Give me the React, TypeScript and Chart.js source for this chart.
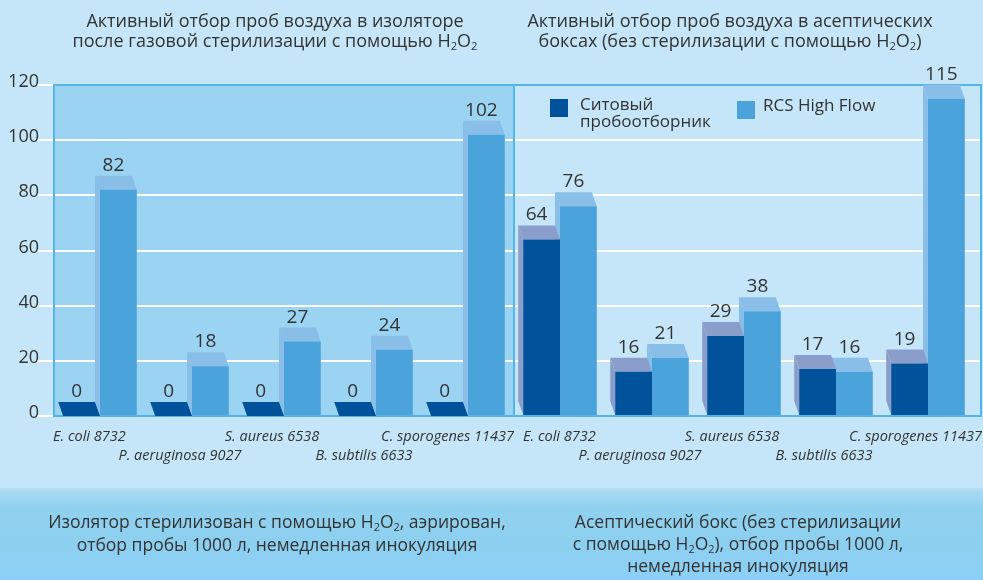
import React, { useEffect, useRef } from 'react';
import { Chart, registerables } from 'chart.js';

Chart.register(...registerables);

// ---------- data ----------
const categories = ['E. coli 8732', 'P. aeruginosa 9027', 'S. aureus 6538', 'B. subtilis 6633', 'C. sporogenes 11437'];
const sieveIsolator = [0, 0, 0, 0, 0];
const rcsIsolator = [82, 18, 27, 24, 102];
const sieveAseptic = [64, 16, 29, 17, 19];
const rcsAseptic = [76, 21, 38, 16, 115];
const yMin = 0;
const yMax = 120;
const yStep = 20;
const seriesSieve = 'Ситовый пробоотборник';
const seriesRcs = 'RCS High Flow';

// ---------- style ----------
const FONT = '"Open Sans", "Noto Sans", sans-serif';
const TEXT = '#333333';
const PAGE_BG = '#c5e6f8';
const LEFT_BG = '#9bd3f3';
const BORDER = '#56b5e7';
const SIEVE = '#00529b';
const SIEVE_DEPTH = '#8b9ecb';
const RCS = '#4ba3db';
const RCS_DEPTH = '#88bee8';
const DEPTH_X = -5;
const DEPTH_Y = -14;
const BAND_TOP = 488;
const LABEL_SHIFT = -12;

const xLabels = [...categories, ...categories];

const panelsPlugin = {
  id: 'panels3d',
  beforeDraw(chart: any) {
    const { ctx, chartArea, scales } = chart;
    const xs = scales.x;
    ctx.save();
    ctx.fillStyle = PAGE_BG;
    ctx.fillRect(0, 0, chart.width, chart.height);
    const g = ctx.createLinearGradient(0, BAND_TOP, 0, chart.height);
    g.addColorStop(0, '#b4def4');
    g.addColorStop(0.06, '#a3d8f1');
    g.addColorStop(0.2, '#91d1ee');
    g.addColorStop(0.6, '#8ccfef');
    g.addColorStop(1, '#8dd0f7');
    ctx.fillStyle = g;
    ctx.fillRect(0, BAND_TOP, chart.width, chart.height - BAND_TOP);
    const split = (xs.getPixelForValue(4) + xs.getPixelForValue(5)) / 2;
    ctx.fillStyle = LEFT_BG;
    ctx.fillRect(chartArea.left, chartArea.top, split - chartArea.left, chartArea.bottom - chartArea.top);
    ctx.restore();
  },
  beforeDatasetsDraw(chart: any) {
    const { ctx, chartArea, scales } = chart;
    const xs = scales.x;
    const ys = scales.y;
    const split = (xs.getPixelForValue(4) + xs.getPixelForValue(5)) / 2;
    const rightEdge = chartArea.right + 7;
    ctx.save();
    // gridlines
    ctx.strokeStyle = '#ffffff';
    ctx.lineWidth = 2;
    ys.ticks.forEach((t: any) => {
      const py = Math.round(ys.getPixelForValue(t.value));
      ctx.beginPath();
      ctx.moveTo(chartArea.left, py);
      ctx.lineTo(rightEdge, py);
      ctx.stroke();
    });
    // panel borders
    ctx.strokeStyle = BORDER;
    ctx.lineWidth = 2;
    ctx.strokeRect(chartArea.left, chartArea.top, split - chartArea.left, chartArea.bottom - chartArea.top);
    ctx.strokeRect(split, chartArea.top, rightEdge - split, chartArea.bottom - chartArea.top);
    // 3D depth faces (light series first, dark on top)
    [1, 0].forEach((di) => {
      const ds = chart.data.datasets[di];
      const meta = chart.getDatasetMeta(di);
      meta.data.forEach((bar: any, i: number) => {
        const { x, y, base, width } = bar.getProps(['x', 'y', 'base', 'width'], true);
        const l = x - width / 2;
        const r = x + width / 2;
        const v = ds.data[i];
        ctx.fillStyle = v === 0 ? ds.backgroundColor : ds.depthColor;
        ctx.beginPath();
        ctx.moveTo(l, y);
        ctx.lineTo(r, y);
        ctx.lineTo(r + DEPTH_X, y + DEPTH_Y);
        ctx.lineTo(l + DEPTH_X, y + DEPTH_Y);
        ctx.closePath();
        ctx.fill();
        if (v !== 0) {
          ctx.beginPath();
          ctx.moveTo(l, y);
          ctx.lineTo(l + DEPTH_X, y + DEPTH_Y);
          ctx.lineTo(l + DEPTH_X, base + DEPTH_Y);
          ctx.lineTo(l, base);
          ctx.closePath();
          ctx.fill();
        }
      });
    });
    ctx.restore();
  },
  afterDatasetsDraw(chart: any) {
    const { ctx } = chart;
    ctx.save();
    ctx.fillStyle = TEXT;
    ctx.font = `19px ${FONT}`;
    ctx.textAlign = 'center';
    ctx.textBaseline = 'alphabetic';
    chart.data.datasets.forEach((ds: any, di: number) => {
      const meta = chart.getDatasetMeta(di);
      meta.data.forEach((bar: any, i: number) => {
        const { x, y } = bar.getProps(['x', 'y'], true);
        ctx.fillText(String(ds.data[i]), x + DEPTH_X, y + DEPTH_Y - 5);
      });
    });
    ctx.restore();
  },
  afterDraw(chart: any) {
    // staggered category labels, kept inside their own panel
    const { ctx, chartArea, scales } = chart;
    const xs = scales.x;
    const split = (xs.getPixelForValue(4) + xs.getPixelForValue(5)) / 2;
    const rightEdge = chartArea.right + 8;
    ctx.save();
    ctx.fillStyle = TEXT;
    ctx.font = `italic 14.5px ${FONT}`;
    ctx.textAlign = 'left';
    ctx.textBaseline = 'alphabetic';
    const labels: string[] = chart.data.labels;
    labels.forEach((text, i) => {
      const w = ctx.measureText(text).width;
      const inLeft = i < 5;
      const minL = inLeft ? chartArea.left - 1 : split + 9;
      const maxR = inLeft ? split : rightEdge;
      let left = xs.getPixelForValue(i) + LABEL_SHIFT - w / 2;
      if (left + w > maxR) left = maxR - w;
      if (left < minL) left = minL;
      const row = (i % 5) % 2;
      ctx.fillText(text, left, chartArea.bottom + (row === 0 ? 25 : 44));
    });
    ctx.restore();
  },
};

const subStyle: React.CSSProperties = { fontSize: '0.62em', verticalAlign: '-0.3em', lineHeight: 0 };
const H2O2 = () => (
  <>
    H<sub style={subStyle}>2</sub>O<sub style={subStyle}>2</sub>
  </>
);

const textBase: React.CSSProperties = {
  position: 'absolute',
  fontFamily: FONT,
  color: TEXT,
  textAlign: 'center',
  whiteSpace: 'nowrap',
};

export default function App() {
  const canvasRef = useRef<HTMLCanvasElement | null>(null);

  useEffect(() => {
    const canvas = canvasRef.current;
    if (!canvas) return;
    const chart = new Chart(canvas, {
      type: 'bar',
      data: {
        labels: xLabels,
        datasets: [
          {
            label: seriesSieve,
            data: [...sieveIsolator, ...sieveAseptic],
            backgroundColor: SIEVE,
            depthColor: SIEVE_DEPTH,
            borderWidth: 0,
            categoryPercentage: 0.8,
            barPercentage: 1.0,
          } as any,
          {
            label: seriesRcs,
            data: [...rcsIsolator, ...rcsAseptic],
            backgroundColor: RCS,
            depthColor: RCS_DEPTH,
            borderWidth: 0,
            categoryPercentage: 0.8,
            barPercentage: 1.0,
          } as any,
        ],
      },
      options: {
        responsive: false,
        devicePixelRatio: 1,
        animation: false,
        layout: { padding: { top: 85, right: 9, bottom: 114, left: 0 } },
        plugins: {
          legend: { display: false },
          title: { display: false },
          tooltip: { enabled: false },
        },
        scales: {
          x: {
            type: 'category',
            grid: { display: false, drawTicks: false },
            border: { display: false },
            ticks: { display: false },
            afterFit: (s: any) => {
              s.height = 50;
              s.paddingLeft = 0;
              s.paddingRight = 0;
            },
          },
          y: {
            min: yMin,
            max: yMax,
            grid: { drawOnChartArea: false, drawTicks: true, tickLength: 17, color: '#ffffff', lineWidth: 2 },
            border: { display: false },
            ticks: {
              stepSize: yStep,
              padding: -2,
              labelOffset: -3,
              color: TEXT,
              font: { family: FONT, size: 18 },
            },
            afterFit: (s: any) => {
              s.width = 54;
            },
          },
        },
      },
      plugins: [panelsPlugin],
    } as any);
    return () => chart.destroy();
  }, []);

  return (
    <div style={{ position: 'fixed', left: 0, top: 0, width: 983, height: 580, overflow: 'hidden', background: PAGE_BG }}>
      <canvas ref={canvasRef} width={983} height={580} style={{ position: 'absolute', left: 0, top: 0, width: 983, height: 580 }} />
      <div style={{ ...textBase, left: 25, width: 500, top: 10, fontSize: 18, lineHeight: '20px' }}>
        Активный отбор проб воздуха в изоляторе
        <br />
        после газовой стерилизации с помощью <H2O2 />
      </div>
      <div style={{ ...textBase, left: 480, width: 500, top: 10, fontSize: 18, lineHeight: '20px' }}>
        Активный отбор проб воздуха в асептических
        <br />
        боксах (без стерилизации с помощью <H2O2 />)
      </div>
      {/* legend */}
      <div style={{ position: 'absolute', left: 550, top: 99, width: 18, height: 18, background: SIEVE }} />
      <div style={{ ...textBase, textAlign: 'left', left: 580, top: 96, fontSize: 17, lineHeight: '16.6px' }}>
        Ситовый
        <br />
        пробоотборник
      </div>
      <div style={{ position: 'absolute', left: 737, top: 101, width: 18, height: 18, background: RCS }} />
      <div style={{ ...textBase, textAlign: 'left', left: 763, top: 97, fontSize: 17, lineHeight: '16.6px' }}>
        {seriesRcs}
      </div>
      {/* footnotes */}
      <div style={{ ...textBase, left: 27, width: 500, top: 510, fontSize: 17.5, lineHeight: '23px' }}>
        Изолятор стерилизован с помощью <H2O2 />, аэрирован,
        <br />
        отбор пробы 1000 л, немедленная инокуляция
      </div>
      <div style={{ ...textBase, left: 488, width: 500, top: 510, fontSize: 17.5, lineHeight: '22px' }}>
        Асептический бокс (без стерилизации
        <br />
        с помощью <H2O2 />), отбор пробы 1000 л,
        <br />
        немедленная инокуляция
      </div>
    </div>
  );
}
